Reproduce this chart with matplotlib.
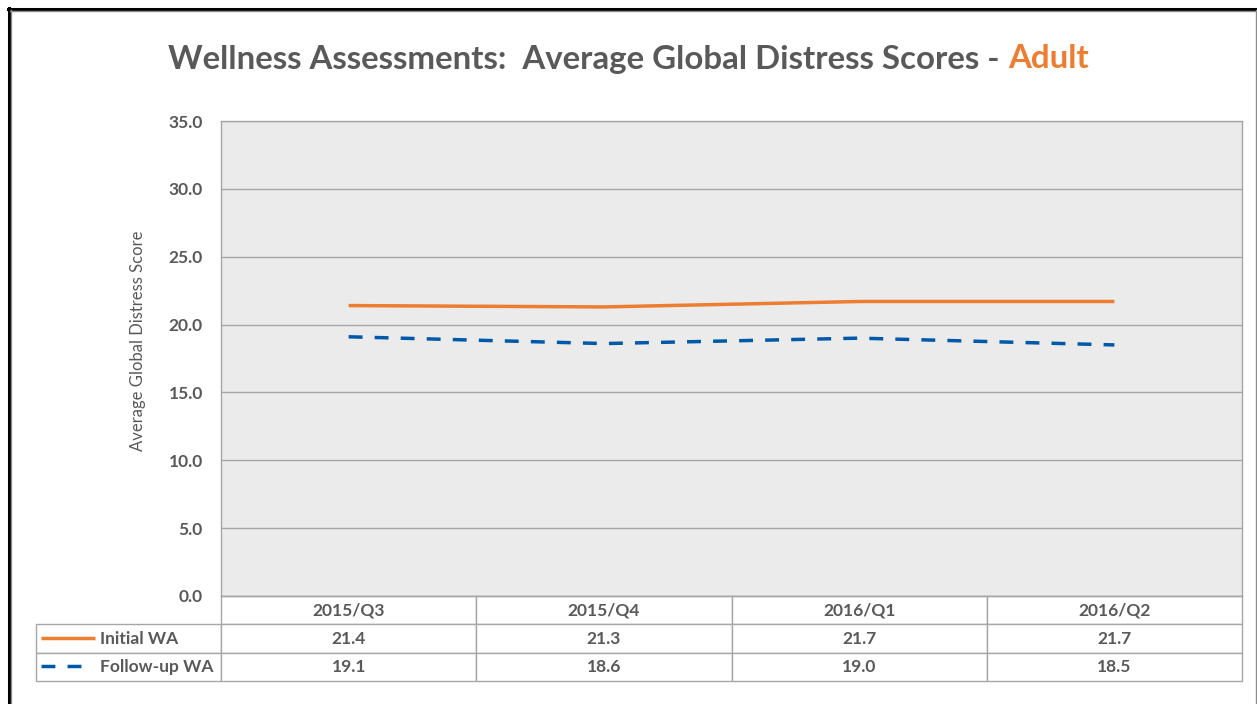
# Wellness Assessments - average global distress scores (adult)

import matplotlib
matplotlib.use('Agg')
import matplotlib.pyplot as plt
from matplotlib.lines import Line2D

plt.rcParams['font.family'] = ['Lato', 'DejaVu Sans']

# Data
quarters = ['2015/Q3', '2015/Q4', '2016/Q1', '2016/Q2']
initial_wa = [21.4, 21.3, 21.7, 21.7]
followup_wa = [19.1, 18.6, 19.0, 18.5]
series_names = ['Initial WA', 'Follow-up WA']
y_ticks = [0, 5, 10, 15, 20, 25, 30, 35]

# Styles
ORANGE = '#ED7D31'
BLUE = '#0058A8'
TEXT = '#595959'
GRID = '#A6A6A6'
FACE = '#EBEBEB'

W, H = 1257, 704
fig = plt.figure(figsize=(W / 100, H / 100), dpi=100)

def fx(px):
    return px / W

def fy(py):
    return 1 - py / H

# axes box in pixels: left 221, right 1242, top 121, bottom 596
ax = fig.add_axes([fx(221), fy(596), fx(1242 - 221), (596 - 121) / H])
ax.set_facecolor(FACE)

x = list(range(len(quarters)))
ax.plot(x, initial_wa, color=ORANGE, lw=2.5, solid_capstyle='butt')
ax.plot(x, followup_wa, color=BLUE, lw=2.5, dashes=(4.0, 3.5), dash_capstyle='butt')

ax.set_xlim(-0.5, len(quarters) - 0.5)
ax.set_ylim(0, 35)
ax.set_yticks(y_ticks)
ax.set_yticklabels([f'{v:.1f}' for v in y_ticks], fontsize=12.5, fontweight='bold', color=TEXT)
ax.set_xticks([])
ax.tick_params(axis='y', length=0, pad=13)
ax.grid(axis='y', color=GRID, lw=1)
ax.set_axisbelow(True)
for s in ax.spines.values():
    s.set_color(GRID)
    s.set_linewidth(1)

ax.set_ylabel('Average Global Distress Score', fontsize=12, color=TEXT)
ax.yaxis.set_label_coords((146 - 221) / 1021, (596 - 341) / 475)

# data table below the plot
cell_text = [[''] + quarters]
for name, vals in zip(series_names, [initial_wa, followup_wa]):
    cell_text.append([name] + [f'{v:.1f}' for v in vals])

left = (36 - 221) / (1242 - 221)
bottom = -(681 - 596) / (596 - 121)
tbl = ax.table(cellText=cell_text, cellLoc='center',
               colWidths=[185] + [255] * len(quarters),
               bbox=[left, bottom, 1 - left, -bottom])
tbl.auto_set_font_size(False)
for (r, c), cell in tbl.get_celld().items():
    cell.set_edgecolor(GRID)
    cell.set_linewidth(1)
    cell.get_text().set_fontsize(12.5)
    cell.get_text().set_fontweight('bold')
    cell.get_text().set_color(TEXT)
    if r == 0 and c == 0:
        cell.visible_edges = ''
    if c == 0 and r > 0:
        cell.get_text().set_ha('left')
        cell.PAD = 64 / 185

# legend keys in the table rows
fig.add_artist(Line2D([fx(41), fx(95)], [fy(638), fy(638)], color=ORANGE, lw=2.5,
                      solid_capstyle='butt'))
fig.add_artist(Line2D([fx(41), fx(82)], [fy(666), fy(666)], color=BLUE, lw=2.5,
                      dashes=(4.0, 3.5), dash_capstyle='butt'))

# title with coloured last word
TITLE_SIZE = 23.8
t1 = fig.text(0.5, fy(59), 'Wellness Assessments:  Average Global Distress Scores - ',
              fontsize=TITLE_SIZE, fontweight='bold', color=TEXT, ha='center', va='center')
t2 = fig.text(0, fy(59), 'Adult', fontsize=TITLE_SIZE, fontweight='bold', color=ORANGE,
              ha='left', va='center')
fig.canvas.draw()
bb = t1.get_window_extent()
shift = t2.get_window_extent().width / 2
t1.set_x((bb.x0 + bb.width / 2 - shift) / W)
t2.set_x((bb.x1 - shift) / W)

# outer frame
fig.add_artist(Line2D([fx(8), fx(1257)], [fy(8.5), fy(8.5)], color='black', lw=2.2))
fig.add_artist(Line2D([fx(9), fx(9)], [fy(8), fy(704)], color='black', lw=2.2))
fig.add_artist(Line2D([fx(10), fx(1257)], [fy(10.5), fy(10.5)], color='#8C8C8C', lw=1))
fig.add_artist(Line2D([fx(11), fx(11)], [fy(10), fy(704)], color='#8C8C8C', lw=1))
fig.add_artist(Line2D([fx(1255.5), fx(1255.5)], [fy(10), fy(704)], color='#8C8C8C', lw=1))

fig.savefig('out.png', dpi=100)
